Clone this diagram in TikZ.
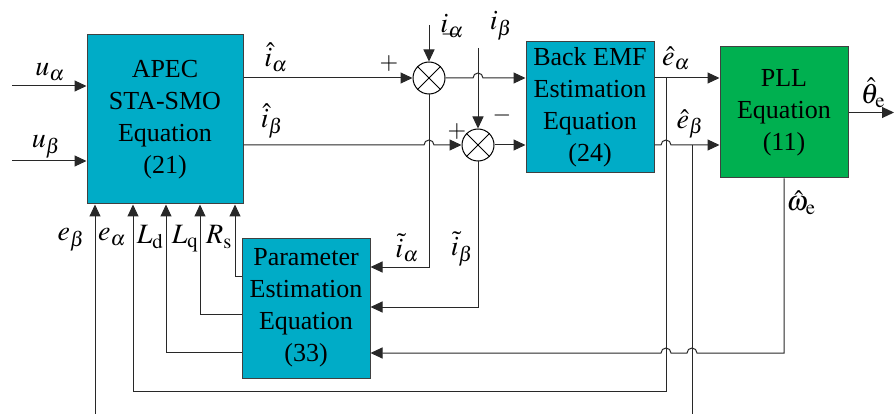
\documentclass[tikz,border=0pt]{standalone}
\usepackage{mathptmx}
\usepackage{fontspec}
\setmainfont{Liberation Serif}
\newfontfamily\boxfont{Liberation Serif}
\usetikzlibrary{arrows.meta,calc}
\definecolor{boxcyan}{RGB}{0,172,199}
\definecolor{boxgreen}{RGB}{0,176,80}
\definecolor{wirec}{RGB}{40,40,40}
\tikzset{
  blk/.style={draw=black!75, line width=1pt, fill=boxcyan, align=center, inner sep=0pt,
              font=\boxfont\fontsize{26}{32}\selectfont},
  sumnode/.style={circle, draw=black, line width=1pt, fill=white, minimum size=32pt, inner sep=0pt},
  lbl/.style={inner sep=0pt, font=\fontsize{28}{32}\selectfont},
  sgn/.style={inner sep=0pt, font=\fontsize{24}{28}\selectfont},
  wire/.style={draw=wirec, line width=1pt},
  arr/.style={wire, -{Triangle[length=12pt,width=11pt]}},
}
\begin{document}
\begin{tikzpicture}[x=1pt,y=-1pt]
\useasboundingbox (0,0) rectangle (894,414);
% blocks
\node[blk, minimum width=156pt, minimum height=169pt] (apec) at (165,119.5) {APEC\\STA-SMO\\Equation\\(21)};
\node[blk, minimum width=128pt, minimum height=131pt] (bemf) at (590,107.5) {Back EMF\\Estimation\\Equation\\(24)};
\node[blk, fill=boxgreen, minimum width=128pt, minimum height=131pt] (pll) at (784,112.5) {PLL\\Equation\\(11)};
\node[blk, minimum width=128pt, minimum height=140pt] (param) at (306,308) {Parameter\\Estimation\\Equation\\(33)};
% summing junctions
\node[sumnode] (s1) at (429,78) {};
\node[sumnode] (s2) at (478,145) {};
\foreach \s in {s1,s2}{
  \draw[line width=1pt] (\s.45) -- (\s.225);
  \draw[line width=1pt] (\s.135) -- (\s.315);
}
% helper coordinates
\coordinate (uain) at (12,86);
\coordinate (ubin) at (12,161);
\coordinate (iain) at (429,25);
\coordinate (ibin) at (478,48);
\coordinate (ja) at (666,78);
\coordinate (jb) at (692,145);
\coordinate (ebout) at (692,414);
\coordinate (ebin) at (95,414);
\coordinate (thout) at (894,112.5);
\coordinate (rowA) at (0,267);
\coordinate (rowB) at (0,307);
\coordinate (rowW) at (0,353);
\coordinate (rowE) at (0,391);
\coordinate (rowLd) at (0,352);
\coordinate (rowLq) at (0,314);
\coordinate (rowRs) at (0,276);
\coordinate (xea) at (133,0);
\coordinate (xld) at (166,0);
\coordinate (xlq) at (200,0);
\coordinate (xrs) at (235,0);
% inputs
\draw[arr] (uain) -- (apec.west|-uain);
\draw[arr] (ubin) -- (apec.west|-ubin);
% estimated currents to junctions
\draw[arr] (apec.east|-s1) -- (s1.west);
\draw[arr] (apec.east|-s2) -- ($(s1|-s2)+(-5,0)$) arc[start angle=180,end angle=0,radius=5pt] -- (s2.west);
\draw[arr] (iain) -- (s1.north);
\draw[arr] (ibin) -- (s2.north);
% junction outputs to back EMF
\draw[arr] (s1.east) -- ($(s2|-s1)+(-5,0)$) arc[start angle=180,end angle=0,radius=5pt] -- (bemf.west|-s1);
\draw[arr] (s2.east) -- (bemf.west|-s2);
% current errors to parameter estimation
\draw[arr] (s1.south) -- (s1|-rowA) -- (param.east|-rowA);
\draw[arr] (s2.south) -- (s2|-rowB) -- (param.east|-rowB);
% back EMF to PLL
\draw[arr] (bemf.east|-s1) -- (pll.west|-s1);
\draw[arr] (bemf.east|-s2) -- ($(ja|-s2)+(-5,0)$) arc[start angle=180,end angle=0,radius=5pt] -- (pll.west|-s2);
% e_alpha feedback
\draw[arr] (ja) -- (ja|-rowE) -- (xea|-rowE) -- (xea|-apec.south);
% e_beta branch
\draw[wire] (jb) -- (ebout);
\draw[arr] (ebin) -- (ebin|-apec.south);
% speed feedback
\draw[arr] (pll.south) -- (pll.south|-rowW) -- ($(jb|-rowW)+(5,0)$) arc[start angle=0,end angle=180,radius=5pt]
  -- ($(ja|-rowW)+(5,0)$) arc[start angle=0,end angle=180,radius=5pt] -- (param.east|-rowW);
% parameter outputs
\draw[arr] (param.west|-rowLd) -- (xld|-rowLd) -- (xld|-apec.south);
\draw[arr] (param.west|-rowLq) -- (xlq|-rowLq) -- (xlq|-apec.south);
\draw[arr] (param.west|-rowRs) -- (xrs|-rowRs) -- (xrs|-apec.south);
% theta output
\draw[arr] (pll.east) -- (thout);
% labels
\node[lbl] (lua) at (50,72) {$u_{\alpha}$};
\node[lbl] (lub) at (46,147) {$u_{\beta}$};
\node[lbl] (lhia) at (276,57) {$\hat{i}_{\alpha}$};
\node[lbl] (lhib) at (272,121) {$\hat{i}_{\beta}$};
\node[lbl] (lia) at (452,26) {$i_{\alpha}$};
\node[lbl] (lib) at (501,26) {$i_{\beta}$};
\node[sgn] (p1) at (389,64) {$+$};
\node[sgn] (m1) at (450,35) {$-$};
\node[sgn] (p2) at (457,132) {$+$};
\node[sgn] (m2) at (502,116) {$-$};
\node[lbl] (lea) at (676,58) {$\hat{e}_{\alpha}$};
\node[lbl] (leb) at (690,124) {$\hat{e}_{\beta}$};
\node[lbl] (lth) at (873,93) {$\hat{\theta}_{\mathrm{e}}$};
\node[lbl] (lom) at (801,203) {$\hat{\omega}_{\mathrm{e}}$};
\node[lbl] (ltia) at (407,248) {$\tilde{i}_{\alpha}$};
\node[lbl] (ltib) at (462,249) {$\tilde{i}_{\beta}$};
\node[lbl] (leb2) at (71,240) {$e_{\beta}$};
\node[lbl] (lea2) at (112,237) {$e_{\alpha}$};
\node[lbl] (lld) at (150,237) {$L_{\mathrm{d}}$};
\node[lbl] (llq) at (185,239) {$L_{\mathrm{q}}$};
\node[lbl] (lrs) at (219,237) {$R_{\mathrm{s}}$};
\end{tikzpicture}
\end{document}
